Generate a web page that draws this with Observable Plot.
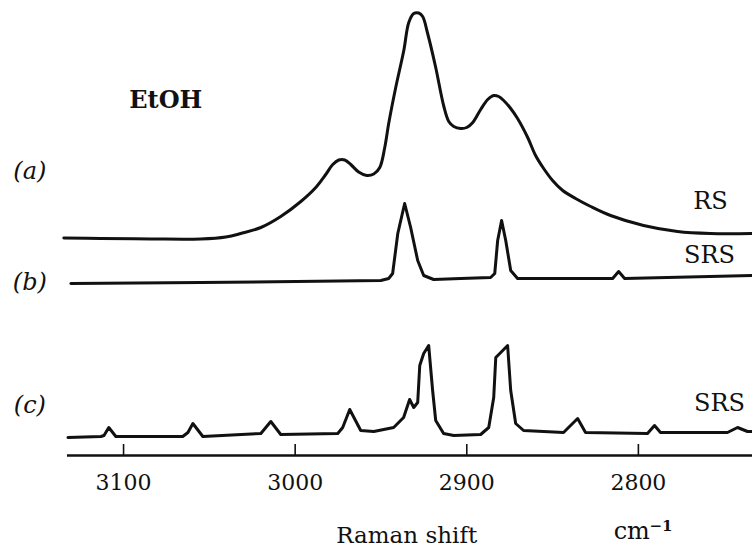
<!DOCTYPE html>
<html><head><meta charset="utf-8">
<script src="https://cdn.jsdelivr.net/npm/d3@7"></script>
<script src="https://cdn.jsdelivr.net/npm/@observablehq/plot@0.6"></script>
<style>body{margin:0;background:#fff}</style>
</head><body><div id="chart"></div>
<script>
// (a) spontaneous Raman spectrum (RS) of ethanol
const rsShift = [3134.8,3113.2,3084.1,3055.0,3040.4,3031.7,3020.0,3008.4,2996.7,2988.0,2982.2,2978.1,2974.6,2971.1,2967.6,2963.0,2958.3,2954.2,2950.7,2947.8,2945.5,2941.4,2936.7,2933.8,2930.9,2928.0,2925.7,2922.8,2918.1,2913.5,2910.5,2907.6,2903.5,2900.0,2896.5,2891.9,2887.8,2884.3,2881.4,2878.5,2874.4,2870.4,2864.5,2859.9,2855.2,2850.0,2844.1,2836.6,2827.8,2816.2,2797.0,2777.2,2758.0,2733.5];
const rsIntensity = [0.5,0,-0.5,-0.5,1.5,5,11,22,37,51,64,74,78.5,78.5,74,66.5,63,64.5,71,91,115,151,188,216,225,225.5,222,205,171,133,117,112,110,111,116,129,139,143,142,138,130,120,101,83,70,58,48,40,32,23,13,7,5,5];

// (b) stimulated Raman spectrum (SRS)
const srsBShift = [3130.7,3055.0,2950.1,2945.5,2943.2,2940.2,2936.2,2932.7,2928.6,2925.1,2919.3,2903.5,2886.1,2883.7,2882.0,2879.7,2877.3,2874.4,2870.4,2815.0,2811.5,2808.0,2733.5];
const srsBIntensity = [-3,-2,0,2,7,47,77,53,20,5,1,2,3,7,40,60,40,10,2,2,9,2,5];

// (c) stimulated Raman spectrum (SRS)
const srsCShift = [3132.4,3113.2,3111.4,3108.6,3104.5,3065.5,3062.5,3059.6,3053.8,3020.0,3014.2,3008.4,2975.2,2972.3,2968.2,2961.8,2954.2,2942.6,2936.8,2933.3,2930.9,2928.6,2927.4,2925.1,2922.2,2919.9,2918.1,2913.5,2907.6,2891.9,2887.2,2884.3,2883.1,2880.2,2876.2,2874.4,2871.5,2866.9,2843.6,2840.7,2835.4,2830.8,2794.7,2790.6,2787.1,2748.1,2742.2,2736.4,2733.5];
const srsCIntensity = [-1,0,1,9,0,0,4,13,0,3,15,2,3,9,27,6,5,9,19,37,29,34,71,83,91,46,16,3,1,2,9,39,79,84,91,46,13,6,4,9,18,4,3,11,4,4,9,5,5];

const ticks = [3100, 3000, 2900, 2800];
const tickLabels = ["3100", "3000", "2900", "2800"];
const traceLabels = ["(a)", "(b)", "(c)"];
const seriesLabels = ["RS", "SRS", "SRS"];
const sample = "EtOH";
const axisLabel = "Raman shift";
const unitLabel = "cm";
const unitExp = "\u22121";

// vertical stacking of the three traces (layout only)
const offA = 217, offB = 175, offC = 19;
const rowsA = rsShift.map((s, i) => ({shift: s, v: rsIntensity[i] + offA}));
const rowsB = srsBShift.map((s, i) => ({shift: s, v: srsBIntensity[i] + offB}));
const rowsC = srsCShift.map((s, i) => ({shift: s, v: srsCIntensity[i] + offC}));

const font = "DejaVu Serif";
const chart = Plot.plot({
  width: 752, height: 549,
  marginLeft: 63, marginRight: 0, marginTop: 0, marginBottom: 94,
  x: {domain: [3135, 2733.5], axis: null},
  y: {domain: [0, 455], axis: null},
  style: {fontFamily: font, background: "#fff", color: "#000"},
  marks: [
    Plot.ruleY([0], {x1: () => 3132.7, x2: () => 2733.5, stroke: "#111", strokeWidth: 2.5}),
    Plot.ruleX(ticks, {x: d => d, y1: () => 0, y2: () => 11, stroke: "#111", strokeWidth: 1.6}),
    Plot.text(ticks, {x: d => d, y: () => 0, dy: 34, text: (d, i) => tickLabels[i], fontSize: 22, lineAnchor: "bottom", fill: "#111"}),
    Plot.line(rowsA, {x: "shift", y: "v", curve: "catmull-rom", stroke: "#111", strokeWidth: 3, strokeLinejoin: "round"}),
    Plot.line(rowsB, {x: "shift", y: "v", curve: "linear", stroke: "#111", strokeWidth: 3, strokeLinejoin: "round"}),
    Plot.line(rowsC, {x: "shift", y: "v", curve: "linear", stroke: "#111", strokeWidth: 3, strokeLinejoin: "round"}),
    Plot.text([sample], {x: () => 3075.4, y: () => 348, text: d => d, fontSize: 24, fontWeight: "bold", lineAnchor: "bottom", fill: "#111"}),
    Plot.text(traceLabels, {x: () => 3154.6, y: (d, i) => [277, 166, 43][i], text: d => d, fontSize: 24, fontStyle: "italic", lineAnchor: "bottom", fill: "#111"}),
    Plot.text(seriesLabels, {x: (d, i) => [2758.0, 2758.6, 2752.7][i], y: (d, i) => [247, 193, 45][i], text: d => d, fontSize: 24, lineAnchor: "bottom", fill: "#111"}),
    Plot.text([axisLabel], {x: () => 2935.0, y: () => -87, text: d => d, fontSize: 23, lineAnchor: "bottom", fill: "#111"}),
    Plot.text([unitLabel], {x: () => 2814.4, y: () => -83, text: d => d, fontSize: 24, textAnchor: "start", lineAnchor: "bottom", fill: "#111"}),
    Plot.text([unitExp], {x: () => 2793.5, y: () => -75, text: d => d, fontSize: 15, fontWeight: "bold", textAnchor: "start", lineAnchor: "bottom", fill: "#111"})
  ]
});
document.getElementById("chart").appendChild(chart);
</script>
</body></html>
